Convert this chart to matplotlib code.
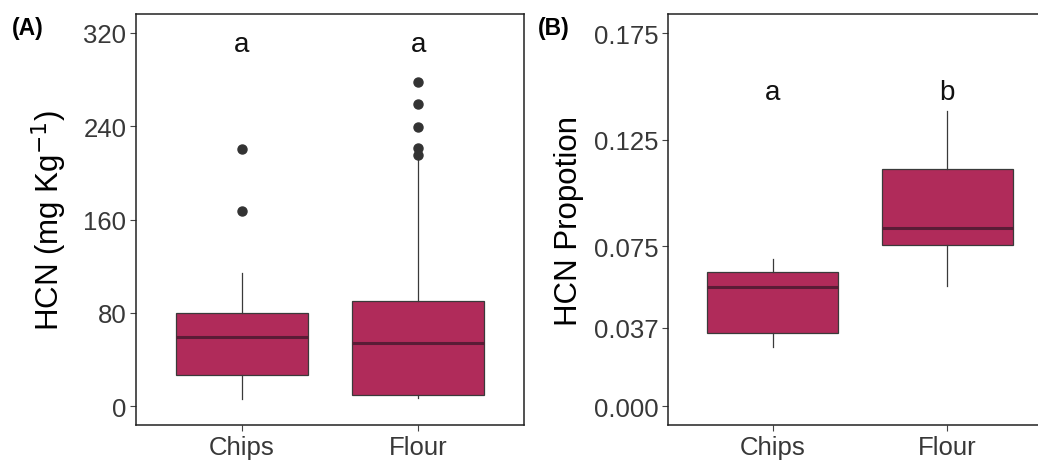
import matplotlib
matplotlib.use("Agg")
import matplotlib.pyplot as plt

plt.rcParams['font.family'] = ['Liberation Sans', 'DejaVu Sans']

# ---- data ----
categories = ["Chips", "Flour"]

# Panel A: HCN (mg/kg)
hcn_whislo = [6.3, 7.1]
hcn_q1 = [27.0, 9.7]
hcn_med = [59.5, 53.9]
hcn_q3 = [80.0, 90.3]
hcn_whishi = [113.8, 212.0]
hcn_fliers = [[167.3, 220.7], [215.0, 221.0, 239.5, 259.2, 278.0]]
hcn_letters = ["a", "a"]
hcn_ticks = [0, 80, 160, 240, 320]

# Panel B: HCN proportion
prop_whislo = [0.0279, 0.0564]
prop_q1 = [0.0344, 0.0758]
prop_med = [0.0561, 0.0835]
prop_q3 = [0.0629, 0.1112]
prop_whishi = [0.0692, 0.1385]
prop_letters = ["a", "b"]
prop_ticks = [0.000, 0.037, 0.075, 0.125, 0.175]
prop_ticklabels = ["0.000", "0.037", "0.075", "0.125", "0.175"]

FILL = "#B02B5A"
EDGE = "#3a3a3a"
MED = "#5a1c36"

fig = plt.figure(figsize=(10.38, 4.64), dpi=100)
W, H = 1038, 464


def make_ax(x0, x1, y0, y1):
    return fig.add_axes([x0 / W, 1 - y1 / H, (x1 - x0) / W, (y1 - y0) / H])


def draw(ax, whislo, q1, med, q3, whishi, fliers):
    stats = []
    for i, c in enumerate(categories):
        stats.append(dict(label=c, whislo=whislo[i], q1=q1[i], med=med[i],
                          q3=q3[i], whishi=whishi[i],
                          fliers=fliers[i] if fliers else []))
    ax.bxp(stats, positions=[1, 2], widths=0.75, patch_artist=True,
           showcaps=False,
           boxprops=dict(facecolor=FILL, edgecolor=EDGE, linewidth=0.9),
           medianprops=dict(color=MED, linewidth=2.2),
           whiskerprops=dict(color=EDGE, linewidth=0.9),
           flierprops=dict(marker="o", markersize=6.5, markerfacecolor="#333333",
                           markeredgecolor="#333333"))
    ax.set_xlim(0.4, 2.6)
    ax.set_xticks([1, 2])
    ax.set_xticklabels(categories)
    for s in ax.spines.values():
        s.set_color("#222222")
        s.set_linewidth(1.1)
    ax.tick_params(axis="both", direction="out", length=4, width=0.8,
                   color="#444444", labelsize=18.5, labelcolor="#383838", pad=3)


axA = make_ax(136, 524, 15, 426)
draw(axA, hcn_whislo, hcn_q1, hcn_med, hcn_q3, hcn_whishi, hcn_fliers)
axA.set_ylim(-16, 336)
axA.set_yticks(hcn_ticks)
axA.set_ylabel("HCN (mg Kg$^{-1}$)", fontsize=22.5, color="black")
axA.yaxis.set_label_coords(-0.172, 0.5)
for i, l in enumerate(hcn_letters):
    axA.text(i + 1, 310, l, ha="center", va="center", fontsize=20,
             color="#111111")

axB = make_ax(668, 1052, 15, 426)
draw(axB, prop_whislo, prop_q1, prop_med, prop_q3, prop_whishi, None)
axB.set_ylim(-0.0087, 0.184)
axB.set_yticks(prop_ticks)
axB.set_yticklabels(prop_ticklabels)
axB.set_ylabel("HCN Propotion", fontsize=22.5, color="black")
axB.yaxis.set_label_coords(-0.219, 0.5)
for i, l in enumerate(prop_letters):
    axB.text(i + 1, 0.1475, l, ha="center", va="center", fontsize=20,
             color="#111111")

fig.text(28 / W, 1 - 28 / H, "(A)", ha="center", va="center", fontsize=16.5,
         fontweight="bold")
fig.text(554 / W, 1 - 28 / H, "(B)", ha="center", va="center", fontsize=16.5,
         fontweight="bold")

fig.savefig("out.png", dpi=100)
